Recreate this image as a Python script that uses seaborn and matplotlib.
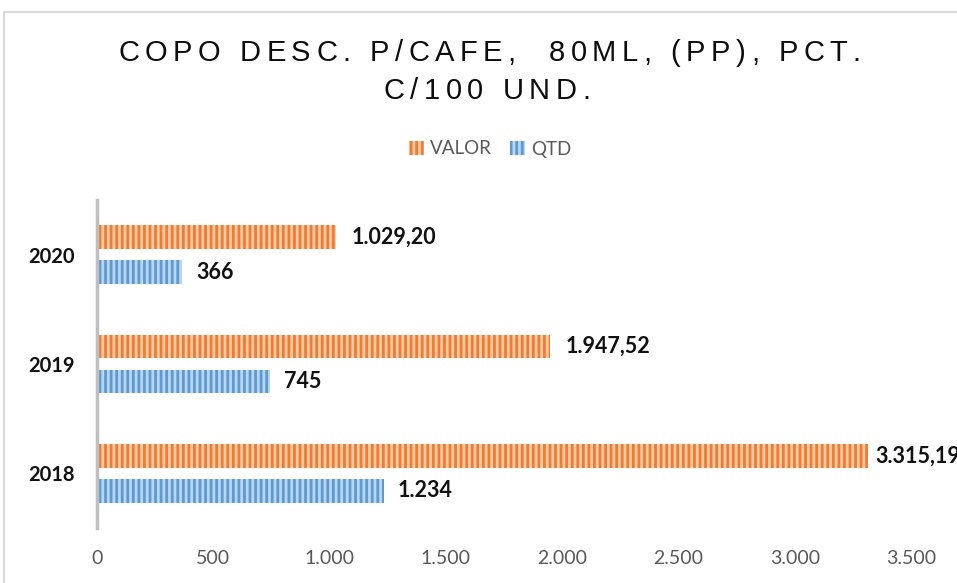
import matplotlib
matplotlib.use('Agg')
import matplotlib.pyplot as plt
import seaborn as sns
import pandas as pd
from matplotlib.patches import Patch, Rectangle
from matplotlib.ticker import FuncFormatter
from matplotlib.font_manager import FontProperties

# ============================================================
# dados
# ============================================================

anos = ['2020', '2019', '2018']
valor = [1029.20, 1947.52, 3315.19]
qtd = [366, 745, 1234]
series = ['VALOR', 'QTD']
titulo = ['COPO DESC. P/CAFE,  80ML, (PP), PCT.', 'C/100 UND.']

cores = {'VALOR': '#ED7D31', 'QTD': '#5B9BD5'}
listras = {'VALOR': '#F9C9A6', 'QTD': '#BBD5EE'}
decimais = {'VALOR': 2, 'QTD': 0}
# o ultimo rotulo de VALOR fica mais perto da barra (como no original)
afastamento = {'VALOR': [11, 11, 5], 'QTD': [10, 10, 10]}

df = pd.DataFrame({
    'ano': anos * 2,
    'serie': ['VALOR'] * len(anos) + ['QTD'] * len(anos),
    'valor': valor + qtd,
})


def fmt_br(v, dec=0):
    s = f'{v:,.{dec}f}'
    return s.replace(',', 'X').replace('.', ',').replace('X', '.')


# ============================================================
# figura
# ============================================================

sns.set_theme(style='white')
plt.rcParams['font.family'] = ['Lato', 'DejaVu Sans']
plt.rcParams['hatch.linewidth'] = 2.0

W, H = 957, 583
fig = plt.figure(figsize=(W / 100, H / 100), dpi=100)
ax = fig.add_axes([97 / W, 1 - 528 / H, (911 - 97) / W, (528 - 200) / H])

sns.barplot(
    data=df, y='ano', x='valor', hue='serie',
    order=anos, hue_order=series, palette=cores,
    orient='h', width=0.64, gap=0.33, saturation=1,
    legend=False, ax=ax
)

for cont, serie in zip(ax.containers, series):
    for bar in cont:
        bar.set_hatch('|||')
        bar.set_edgecolor(listras[serie])
        bar.set_linewidth(0)
    vals = [b.get_width() for b in cont]
    rotulos = ax.bar_label(
        cont,
        labels=[fmt_br(v, decimais[serie]) for v in vals],
        padding=10, fontsize=15.5, fontweight='bold', color='#111111'
    )
    for r, pad in zip(rotulos, afastamento[serie]):
        r.xyann = (pad, 0)

ax.set_xlim(0, 3500)
ax.set_xticks(range(0, 3501, 500))
ax.xaxis.set_major_formatter(FuncFormatter(lambda v, p: fmt_br(v)))
ax.set_xlabel('')
ax.set_ylabel('')
ax.grid(False)

for s in ['top', 'right', 'bottom']:
    ax.spines[s].set_visible(False)
ax.spines['left'].set_color('#BFBFBF')
ax.spines['left'].set_linewidth(2.5)

ax.tick_params(axis='x', length=0, pad=16, labelsize=14, labelcolor='#595959')
ax.tick_params(axis='y', length=0, pad=16, labelsize=14.5, labelcolor='#111111')
for lbl in ax.get_yticklabels():
    lbl.set_fontweight('bold')

# legenda
handles = [
    Patch(facecolor=cores[s], edgecolor=listras[s], hatch='|||', linewidth=0, label=s)
    for s in series
]
fig.legend(
    handles=handles, loc='center', bbox_to_anchor=(490 / W, 1 - 149 / H),
    ncol=2, frameon=False, fontsize=13.5, labelcolor='#595959',
    handlelength=0.8, handleheight=0.8, handletextpad=0.3, columnspacing=1.0
)

# borda
fig.add_artist(Rectangle(
    (4 / W, -0.1), 1.2, 1 - 12 / H + 0.1, transform=fig.transFigure,
    fill=False, edgecolor='#D9D9D9', linewidth=1.5
))

# ============================================================
# titulo com espacamento entre letras
# ============================================================

renderer = fig.canvas.get_renderer()
fp_tit = FontProperties(family='Liberation Sans', size=21)
base = renderer.get_text_width_height_descent('||', fp_tit, ismath=False)[0]


def avanco(t):
    return renderer.get_text_width_height_descent('|' + t + '|', fp_tit, ismath=False)[0] - base


def texto_espacado(s, cx, cy, esp):
    total = avanco(s) + esp * (len(s) - 1)
    x0 = cx - total / 2
    for i, ch in enumerate(s):
        if ch == ' ':
            continue
        x = x0 + avanco(s[:i]) + esp * i
        fig.text(x / W, 1 - cy / H, ch, fontproperties=fp_tit,
                 color='#0D0D0D', ha='left', va='center')


texto_espacado(titulo[0], 488, 53, 5.5)
texto_espacado(titulo[1], 487, 91, 5.5)

fig.savefig('out.png', dpi=100)
